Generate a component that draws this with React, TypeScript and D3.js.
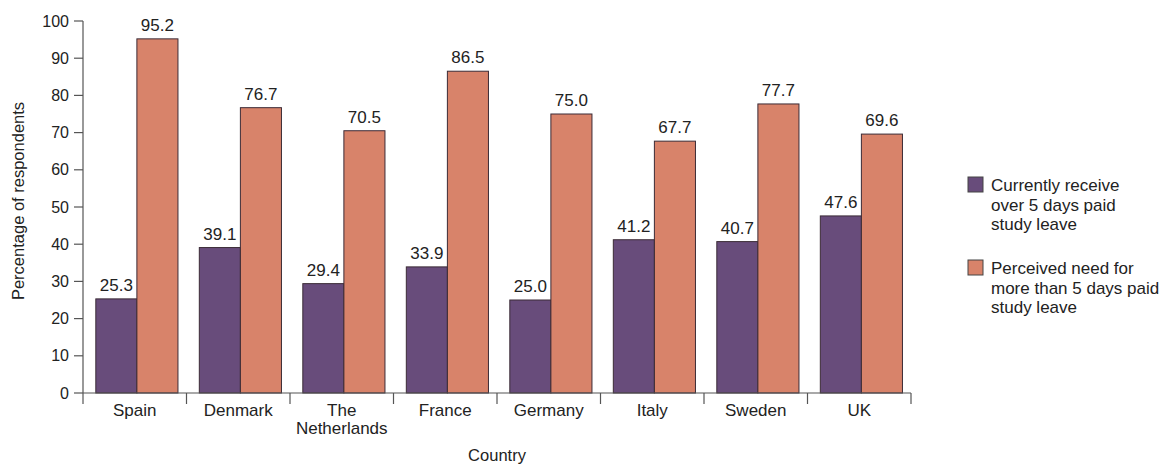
import React from "react";
import * as d3 from "d3";

const countries = ["Spain", "Denmark", "The\nNetherlands", "France", "Germany", "Italy", "Sweden", "UK"];
const currentlyReceive = [25.3, 39.1, 29.4, 33.9, 25.0, 41.2, 40.7, 47.6];
const perceivedNeed = [95.2, 76.7, 70.5, 86.5, 75.0, 67.7, 77.7, 69.6];
const yTicks = [0, 10, 20, 30, 40, 50, 60, 70, 80, 90, 100];
const seriesNames = [
  ["Currently receive", "over 5 days paid", "study leave"],
  ["Perceived need for", "more than 5 days paid", "study leave"],
];
const colors = ["#684c7b", "#d8836a"];

const W = 1167;
const H = 466;
const left = 83;
const right = 911;
const top = 21;
const bottom = 393;
const font = "Liberation Sans, Arial, sans-serif";

export default function App() {
  const x = d3.scaleBand<number>().domain(d3.range(countries.length)).range([left, right]).paddingInner(0).paddingOuter(0);
  const y = d3.scaleLinear().domain([0, 100]).range([bottom, top]);
  const inner = d3.scaleBand<number>().domain([0, 1]).range([0, x.bandwidth()]).paddingOuter(0.26).paddingInner(0).align(0.6);
  const series = [currentlyReceive, perceivedNeed];

  return (
    <svg width={W} height={H} style={{ position: "absolute", left: 0, top: 0, background: "#fff" }} fontFamily={font}>
      {/* bars and value labels */}
      {countries.map((_, i) =>
        series.map((vals, s) => {
          const bx = (x(i) as number) + (inner(s) as number);
          const v = vals[i];
          return (
            <g key={`${i}-${s}`}>
              <rect x={bx} y={y(v)} width={inner.bandwidth()} height={bottom - y(v)} fill={colors[s]} stroke="#3b2b36" strokeWidth={1} />
              <text x={bx + inner.bandwidth() / 2} y={y(v) - 8} textAnchor="middle" fontSize={17} fill="#222">
                {v.toFixed(1)}
              </text>
            </g>
          );
        })
      )}

      {/* y axis */}
      <line x1={left} x2={left} y1={top} y2={bottom} stroke="#555" strokeWidth={1.2} />
      {yTicks.map((t) => (
        <g key={t}>
          <line x1={left - 9} x2={left} y1={y(t)} y2={y(t)} stroke="#555" strokeWidth={1.2} />
          <text x={left - 14} y={y(t)} dy="0.35em" textAnchor="end" fontSize={16} fill="#222">
            {t}
          </text>
        </g>
      ))}
      <text transform={`translate(24,201) rotate(-90)`} textAnchor="middle" fontSize={16.5} fill="#222">
        Percentage of respondents
      </text>

      {/* x axis */}
      <line x1={left} x2={right} y1={bottom} y2={bottom} stroke="#555" strokeWidth={1.2} />
      {d3.range(countries.length + 1).map((i) => {
        const xx = i < countries.length ? (x(i) as number) : right;
        return <line key={i} x1={xx} x2={xx} y1={bottom} y2={bottom + 11} stroke="#555" strokeWidth={1.2} />;
      })}
      {countries.map((c, i) => (
        <text key={c} x={(x(i) as number) + x.bandwidth() / 2} y={416} textAnchor="middle" fontSize={17} fill="#222">
          {c.split("\n").map((line, k) => (
            <tspan key={k} x={(x(i) as number) + x.bandwidth() / 2} dy={k === 0 ? 0 : 18}>
              {line}
            </tspan>
          ))}
        </text>
      ))}
      <text x={497} y={461} textAnchor="middle" fontSize={16.5} fill="#222">
        Country
      </text>

      {/* legend */}
      {seriesNames.map((lines, s) => {
        const ly = 177 + s * 83;
        return (
          <g key={s}>
            <rect x={968} y={ly} width={15} height={15} fill={colors[s]} stroke="#444" strokeWidth={1} />
            {lines.map((ln, k) => (
              <text key={k} x={991} y={ly + 14 + k * 19.5} fontSize={17} fill="#222">
                {ln}
              </text>
            ))}
          </g>
        );
      })}
    </svg>
  );
}
